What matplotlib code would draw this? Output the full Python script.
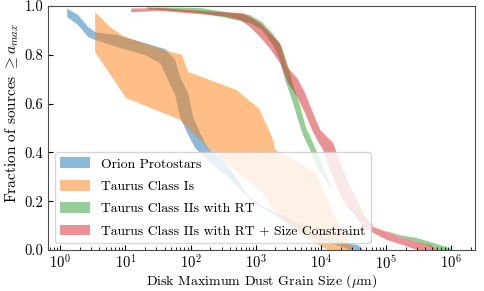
import numpy as np
import matplotlib
matplotlib.use('Agg')
import matplotlib.pyplot as plt

plt.rcParams['font.family'] = 'serif'
plt.rcParams['font.serif'] = ['cmr10']
plt.rcParams['mathtext.fontset'] = 'cm'
plt.rcParams['axes.formatter.use_mathtext'] = True
plt.rcParams['font.size'] = 10

# band edges: log10(a_max / um) and fraction of sources
orion_loga_hi = [0.107, 0.276, 0.429, 0.537, 0.874, 1.304, 1.610, 1.764, 1.840, 1.963, 2.040, 2.147, 2.239,
                 2.347, 2.531, 2.730, 2.883, 3.067, 3.267, 3.497, 3.681, 3.942, 4.141, 4.371, 4.571, 4.647]
orion_frac_hi = [0.99, 0.963, 0.914, 0.893, 0.881, 0.848, 0.824, 0.779, 0.709, 0.643, 0.545, 0.480, 0.430,
                 0.398, 0.357, 0.287, 0.221, 0.184, 0.160, 0.131, 0.107, 0.057, 0.041, 0.029, 0.020, 0.0]
orion_loga_lo = [0.107, 0.276, 0.429, 0.537, 0.874, 1.304, 1.534, 1.656, 1.764, 1.840, 1.948, 2.071, 2.347,
                 2.607, 2.807, 3.021, 3.267, 3.528, 3.788, 4.034, 4.294, 4.448]
orion_frac_lo = [0.955, 0.922, 0.873, 0.861, 0.832, 0.799, 0.766, 0.697, 0.635, 0.545, 0.480, 0.418, 0.348,
                 0.291, 0.234, 0.184, 0.148, 0.102, 0.061, 0.037, 0.016, 0.0]

taurus1_loga_hi = [0.537, 0.767, 0.966, 1.58, 1.87, 1.96, 2.70, 3.05, 3.25, 3.30, 3.91, 3.99, 4.14, 4.29, 4.49]
taurus1_frac_hi = [0.975, 0.914, 0.877, 0.82, 0.80, 0.73, 0.656, 0.58, 0.463, 0.41, 0.32, 0.275, 0.176, 0.094, 0.0]
taurus1_loga_lo = [0.537, 1.01, 1.84, 2.27, 2.61, 2.87, 3.11, 3.25, 3.65, 4.10]
taurus1_frac_lo = [0.81, 0.623, 0.533, 0.418, 0.34, 0.287, 0.234, 0.17, 0.07, 0.0]

rt_loga_hi = [1.334, 2.147, 2.561, 2.914, 3.098, 3.267, 3.405, 3.497, 3.589, 3.681, 3.773, 3.880, 3.988,
              4.095, 4.187, 4.340, 4.555, 4.755, 4.954, 5.215, 5.475, 5.675, 5.936, 6.028]
rt_frac_hi = [0.995, 0.992, 0.975, 0.963, 0.934, 0.885, 0.830, 0.754, 0.664, 0.590, 0.500, 0.439, 0.369,
              0.299, 0.234, 0.193, 0.152, 0.111, 0.082, 0.061, 0.049, 0.033, 0.012, 0.0]
rt_loga_lo = [1.334, 2.147, 2.561, 2.914, 3.098, 3.267, 3.374, 3.451, 3.558, 3.650, 3.727, 3.834, 3.942,
              4.095, 4.248, 4.448, 4.647, 4.862, 5.061, 5.261, 5.475, 5.629, 5.782]
rt_frac_lo = [0.988, 0.971, 0.951, 0.930, 0.902, 0.840, 0.779, 0.697, 0.615, 0.533, 0.471, 0.410, 0.340,
              0.275, 0.217, 0.164, 0.123, 0.094, 0.070, 0.049, 0.033, 0.020, 0.0]

rtsize_loga_hi = [1.089, 1.534, 2.500, 2.807, 2.914, 3.067, 3.221, 3.374, 3.482, 3.635, 3.758, 3.880, 3.988,
                  4.034, 4.187, 4.264, 4.340, 4.448, 4.555, 4.647, 4.801, 5.015, 5.215, 5.475, 5.675, 5.782]
rtsize_frac_hi = [0.99, 0.992, 0.975, 0.971, 0.955, 0.930, 0.889, 0.848, 0.750, 0.705, 0.643, 0.561, 0.492,
                  0.480, 0.439, 0.381, 0.328, 0.258, 0.205, 0.152, 0.094, 0.074, 0.053, 0.033, 0.020, 0.0]
rtsize_loga_lo = [1.089, 1.534, 2.500, 2.761, 2.914, 3.067, 3.221, 3.374, 3.497, 3.635, 3.758, 3.865, 3.942,
                  4.034, 4.141, 4.248, 4.340, 4.494, 4.647, 4.801, 5.015, 5.261, 5.475]
rtsize_frac_lo = [0.975, 0.980, 0.959, 0.943, 0.914, 0.873, 0.825, 0.765, 0.684, 0.627, 0.561, 0.492, 0.451,
                  0.410, 0.328, 0.258, 0.205, 0.152, 0.094, 0.070, 0.041, 0.020, 0.0]

labels = ['Orion Protostars', 'Taurus Class Is', 'Taurus Class IIs with RT',
          'Taurus Class IIs with RT + Size Constraint']

bands = [(orion_loga_hi, orion_frac_hi, orion_loga_lo, orion_frac_lo),
         (taurus1_loga_hi, taurus1_frac_hi, taurus1_loga_lo, taurus1_frac_lo),
         (rt_loga_hi, rt_frac_hi, rt_loga_lo, rt_frac_lo),
         (rtsize_loga_hi, rtsize_frac_hi, rtsize_loga_lo, rtsize_frac_lo)]

fig = plt.figure(figsize=(4.85, 2.91), dpi=100)
ax = fig.add_axes([0.099, 0.141, 0.880, 0.838])

for i, (xh, yh, xl, yl) in enumerate(bands):
	x = 10**np.concatenate([xh, xl[::-1]])
	y = np.concatenate([yh, yl[::-1]])
	ax.fill(x, y, color='C%d' % i, alpha=0.5, lw=0, label=labels[i])

ax.set_xscale('log')
ax.set_xlim(0.65, 2.3e6)
ax.set_ylim(0, 1)
ax.set_yticks([0, 0.2, 0.4, 0.6, 0.8, 1.0])
ax.set_yticklabels(['0.0', '0.2', '0.4', '0.6', '0.8', '1.0'])
ax.tick_params(which='both', direction='in', labelsize=10.5)
ax.tick_params(axis='x', pad=3)
for s in ax.spines.values():
	s.set_color('0.3')
ax.set_xlabel('Disk Maximum Dust Grain Size ($\\mu$m)', labelpad=0)
ax.set_ylabel('Fraction of sources $\\geq a_{max}$', fontsize=11)
ax.yaxis.set_label_coords(-0.064, 0.56)
ax.legend(loc='lower left', fontsize=9.8, labelspacing=0.68, handlelength=2.2, handleheight=0.85)

fig.savefig('out.png', dpi=100)
